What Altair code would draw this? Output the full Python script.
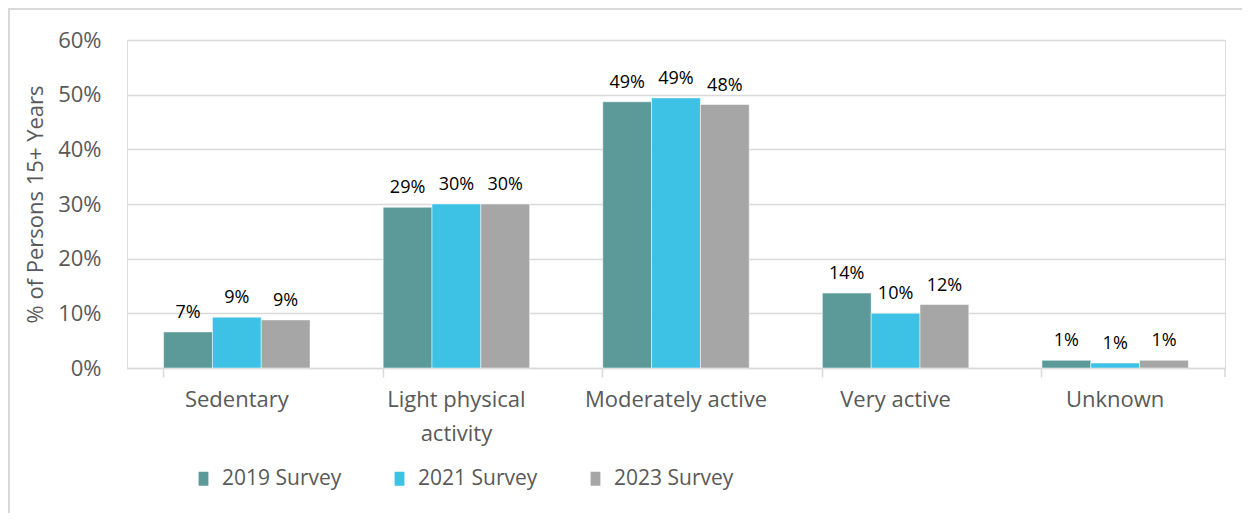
import altair as alt
import pandas as pd

categories = ["Sedentary", "Light physical activity", "Moderately active", "Very active", "Unknown"]
series = ["2019 Survey", "2021 Survey", "2023 Survey"]
v2019 = [0.066, 0.294, 0.487, 0.137, 0.014]
v2021 = [0.093, 0.300, 0.494, 0.100, 0.009]
v2023 = [0.088, 0.300, 0.482, 0.116, 0.014]
colors = ["#5B9A99", "#3DC1E5", "#A6A6A6"]

rows = []
for s, vals in zip(series, [v2019, v2021, v2023]):
    for c, v in zip(categories, vals):
        rows.append({"category": c, "series": s, "value": v})
df = pd.DataFrame(rows)

FONT = "Open Sans"
W, H = 1098, 328

x = alt.X("category:N", sort=categories, title=None,
          scale=alt.Scale(paddingInner=0.333, paddingOuter=0.1667),
          axis=alt.Axis(labelAngle=0, labelFontSize=22, labelColor="#595959", labelFont=FONT,
                        labelLimit=400,
                        domainColor="#D9D9D9", domainWidth=1.5, tickColor="#D9D9D9", tickWidth=1.5,
                        tickSize=9, bandPosition=0, labelPadding=12, labelLineHeight=34,
                        labelExpr="datum.label == 'Light physical activity' ? ['Light physical', 'activity'] : datum.label"))
y = alt.Y("value:Q", title="% of Persons 15+ Years",
          scale=alt.Scale(domain=[0, 0.6]),
          axis=alt.Axis(format=".0%", values=[0, 0.1, 0.2, 0.3, 0.4, 0.5, 0.6], labelFontSize=22,
                        labelColor="#595959", labelFont=FONT, ticks=False, domain=False,
                        labelPadding=26, gridColor="#D9D9D9", gridWidth=1.5,
                        titleFontSize=22, titleColor="#595959", titleFont=FONT, titleFontWeight="normal",
                        titlePadding=10))
color = alt.Color("series:N", sort=series, scale=alt.Scale(domain=series, range=colors),
                  legend=alt.Legend(title=None, orient="none", legendX=66, legendY=428,
                                    direction="horizontal", columns=3, gridAlign="all",
                                    symbolType="M-0.7,-1H0.7V1H-0.7Z", symbolSize=196,
                                    symbolStrokeWidth=0, labelFontSize=21, labelColor="#595959",
                                    labelFont=FONT, columnPadding=47, labelOffset=8))

base = alt.Chart(df)
bars = base.mark_bar(stroke="white", strokeWidth=0.5).encode(
    x=x, y=y, color=color, xOffset=alt.XOffset("series:N", sort=series))
labels = base.mark_text(baseline="bottom", dy=-10, fontSize=18, font=FONT, color="#000000").encode(
    x=alt.X("category:N", sort=categories), y="value:Q",
    xOffset=alt.XOffset("series:N", sort=series),
    text=alt.Text("value:Q", format=".0%"))
one = pd.DataFrame({"a": [0]})
endtick = alt.Chart(one).mark_rule(color="#D9D9D9", strokeWidth=1.5).encode(
    x=alt.value(W), y=alt.value(H), y2=alt.value(H + 9))
border_left = alt.Chart(one).mark_rule(color="#D9D9D9", strokeWidth=2).encode(
    x=alt.value(-118), y=alt.value(-32), y2=alt.value(500))
border_top = alt.Chart(one).mark_rule(color="#D9D9D9", strokeWidth=2).encode(
    y=alt.value(-31), x=alt.value(-119), x2=alt.value(1140))

chart = alt.layer(border_left, border_top, bars, labels, endtick).properties(
    width=W, height=H, padding={"left": 119, "top": 32, "right": 17, "bottom": 145},
    autosize=alt.AutoSizeParams(type="none")
).configure_view(stroke=None).configure(background="white")

chart.save("out.html", embed_options={"renderer": "svg", "actions": False})
